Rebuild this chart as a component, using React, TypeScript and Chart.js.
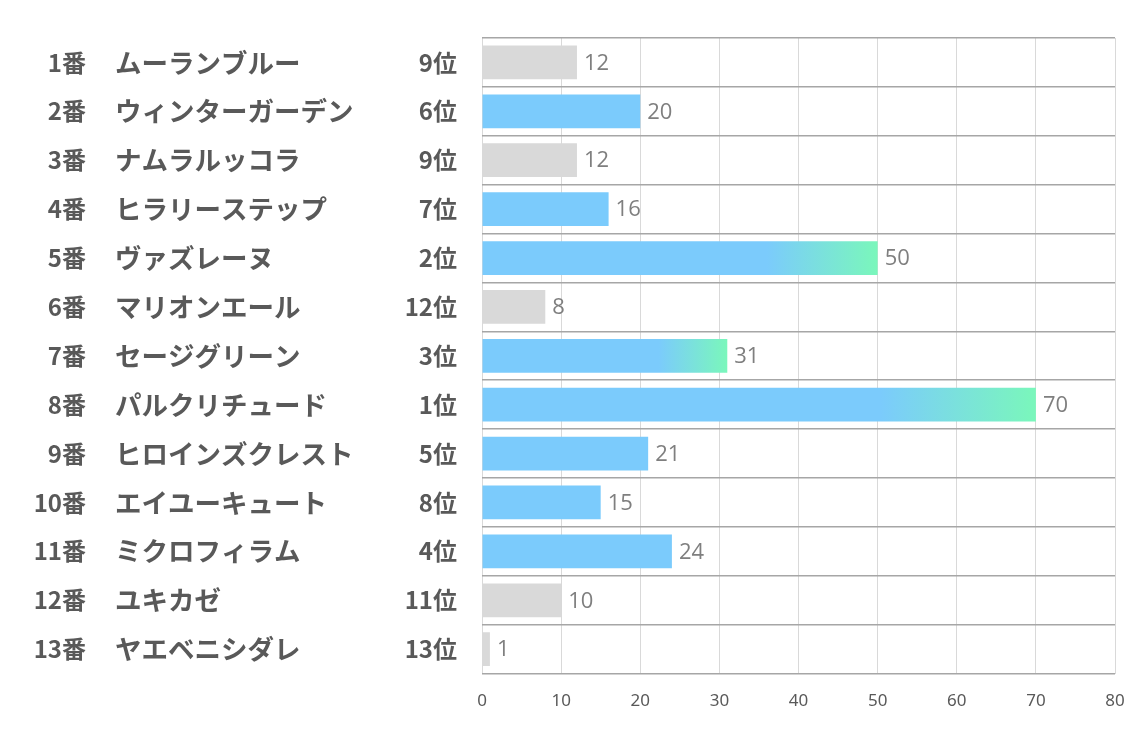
import React, { useEffect, useRef } from "react";
import { Chart, registerables } from "chart.js";

Chart.register(...registerables);

const numbers = ["1番", "2番", "3番", "4番", "5番", "6番", "7番", "8番", "9番", "10番", "11番", "12番", "13番"];
const names = [
  "ムーランブルー",
  "ウィンターガーデン",
  "ナムラルッコラ",
  "ヒラリーステップ",
  "ヴァズレーヌ",
  "マリオンエール",
  "セージグリーン",
  "パルクリチュード",
  "ヒロインズクレスト",
  "エイユーキュート",
  "ミクロフィラム",
  "ユキカゼ",
  "ヤエベニシダレ",
];
const ranks = [9, 6, 9, 7, 2, 12, 3, 1, 5, 8, 4, 11, 13];
const rankLabels = ranks.map((r) => `${r}位`);
const values = [12, 20, 12, 16, 50, 8, 31, 70, 21, 15, 24, 10, 1];
const xTicks = [0, 10, 20, 30, 40, 50, 60, 70, 80];

const BLUE = "#7bcbfc";
const GREEN = "#7af7bb";
const GRAY = "#d9d9d9";
const LABEL_COLOR = "#595959";
const CJK = "'Noto Sans CJK JP', 'Noto Sans', sans-serif";
const SIDE_FONT = { family: CJK, size: 24, weight: "bold" as const };
const NAME_FONT = { family: CJK, size: 26.5, weight: "bold" as const };

const valueLabels = {
  id: "valueLabels",
  afterDatasetsDraw(chart: any) {
    const ctx = chart.ctx;
    const meta = chart.getDatasetMeta(0);
    ctx.save();
    ctx.font = "22px 'Liberation Sans Narrow', 'Open Sans', sans-serif";
    ctx.fillStyle = "#7f7f7f";
    ctx.textAlign = "left";
    ctx.textBaseline = "middle";
    meta.data.forEach((bar: any, i: number) => {
      ctx.fillText(String(values[i]), bar.x + 7, bar.y + 1);
    });
    ctx.restore();
  },
};

const zeroVPad = (width: number) => (s: any) => {
  s.width = width;
  s.paddingTop = 0;
  s.paddingBottom = 0;
};

export default function App() {
  const ref = useRef<HTMLCanvasElement | null>(null);
  useEffect(() => {
    document.body.style.margin = "0";
    if (!ref.current) return;
    const chart = new Chart(ref.current, {
      type: "bar",
      data: {
        labels: rankLabels,
        datasets: [
          {
            data: values,
            backgroundColor: (c: any) => {
              const i = c.dataIndex;
              const r = ranks[i];
              if (r > 8) return GRAY;
              if (r > 3) return BLUE;
              const xs = c.chart.scales?.x;
              if (!xs) return BLUE;
              const x0 = xs.getPixelForValue(0);
              const x1 = xs.getPixelForValue(values[i]);
              const g = c.chart.ctx.createLinearGradient(x0, 0, x1, 0);
              g.addColorStop(0, BLUE);
              g.addColorStop(0.72, BLUE);
              g.addColorStop(1, GREEN);
              return g;
            },
            borderWidth: 0,
            barPercentage: 0.69,
            categoryPercentage: 1,
          },
        ],
      },
      options: {
        indexAxis: "y",
        animation: false,
        responsive: false,
        maintainAspectRatio: false,
        layout: { padding: { top: 38, right: 19, bottom: 9, left: 0 } },
        plugins: { legend: { display: false }, tooltip: { enabled: false } },
        scales: {
          x: {
            type: "linear",
            min: 0,
            max: 80,
            afterBuildTicks: (s: any) => {
              s.ticks = xTicks.map((v) => ({ value: v }));
            },
            afterFit: (s: any) => {
              s.paddingLeft = 0;
              s.paddingRight = 0;
            },
            grid: { color: "#d9d9d9", lineWidth: 1, drawTicks: false },
            border: { display: false },
            ticks: {
              padding: 17,
              color: LABEL_COLOR,
              font: { family: "'Liberation Sans Narrow', 'Noto Sans', sans-serif", size: 17 },
            },
          },
          y: {
            type: "category",
            position: "left",
            weight: 0,
            offset: true,
            grid: { color: "#a6a6a6", lineWidth: 1.5, drawTicks: false, offset: true },
            border: { display: false },
            ticks: { padding: 25, color: LABEL_COLOR, font: SIDE_FONT },
            afterFit: zeroVPad(102),
          },
          yName: {
            type: "category",
            position: "left",
            weight: 1,
            offset: true,
            labels: names,
            grid: { display: false },
            border: { display: false },
            ticks: { padding: 0, crossAlign: "far", color: LABEL_COLOR, font: NAME_FONT },
            afterFit: zeroVPad(265),
          },
          yNum: {
            type: "category",
            position: "left",
            weight: 2,
            offset: true,
            labels: numbers,
            grid: { display: false },
            border: { display: false },
            ticks: { padding: 21, color: LABEL_COLOR, font: SIDE_FONT },
            afterFit: zeroVPad(115),
          },
        },
      } as any,
      plugins: [valueLabels],
    });
    return () => chart.destroy();
  }, []);
  return (
    <div style={{ width: 1134, height: 737 }}>
      <canvas ref={ref} width={1134} height={737} style={{ display: "block" }} />
    </div>
  );
}
